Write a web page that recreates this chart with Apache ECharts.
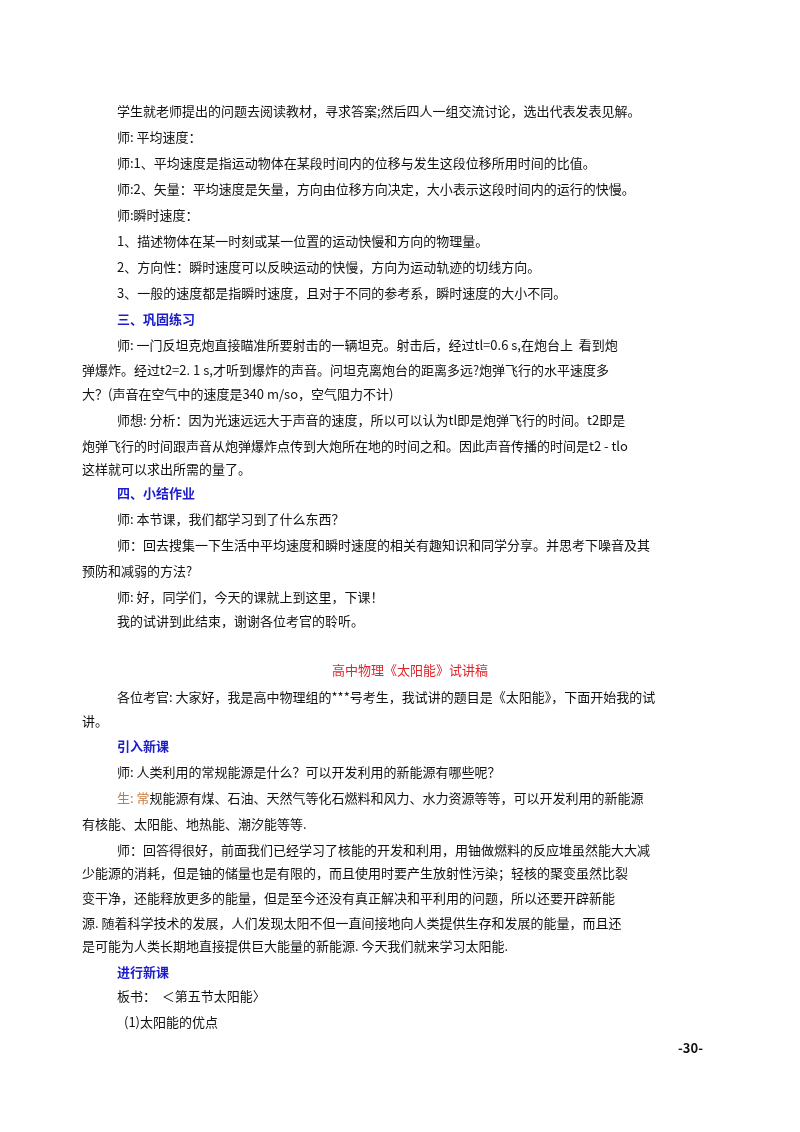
<!DOCTYPE html>
<html><head><meta charset="utf-8">
<script src="https://cdn.jsdelivr.net/npm/echarts@6/dist/echarts.min.js"></script>
<style>html,body{margin:0;padding:0;background:#fff}#c{width:800px;height:1132px}</style>
</head><body><div id="c"></div>
<script>
// Text lines of the page (content)
const lines = [
 "学生就老师提出的问题去阅读教材，寻求答案;然后四人一组交流讨论，选出代表发表见解。",
 "师: 平均速度：",
 "师:1、平均速度是指运动物体在某段时间内的位移与发生这段位移所用时间的比值。",
 "师:2、矢量：平均速度是矢量，方向由位移方向决定，大小表示这段时间内的运行的快慢。",
 "师:瞬时速度：",
 "1、描述物体在某一时刻或某一位置的运动快慢和方向的物理量。",
 "2、方向性：瞬时速度可以反映运动的快慢，方向为运动轨迹的切线方向。",
 "3、一般的速度都是指瞬时速度，且对于不同的参考系，瞬时速度的大小不同。",
 "三、巩固练习",
 "师: 一门反坦克炮直接瞄准所要射击的一辆坦克。射击后，经过tl=0.6 s,在炮台上  看到炮",
 "弹爆炸。经过t2=2. 1 s,才听到爆炸的声音。问坦克离炮台的距离多远?炮弹飞行的水平速度多",
 "大？(声音在空气中的速度是340 m/so，空气阻力不计)",
 "师想: 分析：因为光速远远大于声音的速度，所以可以认为tl即是炮弹飞行的时间。t2即是",
 "炮弹飞行的时间跟声音从炮弹爆炸点传到大炮所在地的时间之和。因此声音传播的时间是t2 - tlo",
 "这样就可以求出所需的量了。",
 "四、小结作业",
 "师: 本节课，我们都学习到了什么东西？",
 "师：回去搜集一下生活中平均速度和瞬时速度的相关有趣知识和同学分享。并思考下噪音及其",
 "预防和减弱的方法?",
 "师: 好，同学们，今天的课就上到这里，下课！",
 "我的试讲到此结束，谢谢各位考官的聆听。",
 "高中物理《太阳能》试讲稿",
 "各位考官: 大家好，我是高中物理组的***号考生，我试讲的题目是《太阳能》，下面开始我的试",
 "讲。",
 "引入新课",
 "师: 人类利用的常规能源是什么？可以开发利用的新能源有哪些呢？",
 "{o|生: 常}规能源有煤、石油、天然气等化石燃料和风力、水力资源等等，可以开发利用的新能源",
 "有核能、太阳能、地热能、潮汐能等等.",
 "师：回答得很好，前面我们已经学习了核能的开发和利用，用铀做燃料的反应堆虽然能大大减",
 "少能源的消耗，但是铀的储量也是有限的，而且使用时要产生放射性污染；轻核的聚变虽然比裂",
 "变干净，还能释放更多的能量，但是至今还没有真正解决和平利用的问题，所以还要开辟新能",
 "源. 随着科学技术的发展，人们发现太阳不但一直间接地向人类提供生存和发展的能量，而且还",
 "是可能为人类长期地直接提供巨大能量的新能源. 今天我们就来学习太阳能.",
 "进行新课",
 "板书：  ＜第五节太阳能〉",
 "(1)太阳能的优点",
 "-30-"
];
// Line kinds: n=normal indented, f=flush, h=heading, t=title, p=page number
const kinds = ["n","n","n","n","n","n","n","n","h","n","f","f","n","f","f","h","n","n","f","n","n","t","n","f","h","n","n","f","n","f","f","f","f","h","n","s","p"];
const ys = [111,137,163,189,215,241,267,293,319,345,370,394,420,446,469,493,519,545,571,597,621,670,697,721,746,772,798,824,850,873,898,923,946,972,996,1022,1048];

const chart = echarts.init(document.getElementById('c'));
const font = '"Noto Sans CJK SC", "Liberation Serif", serif';
const elements = lines.map((t,i)=>{
  const k = kinds[i];
  const st = {text:t, fontSize:13, fontFamily:font, fill:'#111', textVerticalAlign:'middle',
    rich:{o:{fill:'#c8783a',fontSize:13,fontFamily:font}}};
  let x = k==='f'?82:(k==='s'?124:117);
  if(k==='h'){st.fill='#1c1ccc';st.fontWeight='bold';}
  if(k==='t'){st.fill='#e0252a';st.textAlign='center';x=410;}
  if(k==='p'){st.fontWeight='bold';st.textAlign='right';x=703;}
  return {type:'text', x:x, y:ys[i], style:st};
});
chart.setOption({backgroundColor:'#fff', graphic:{elements}});
</script></body></html>
